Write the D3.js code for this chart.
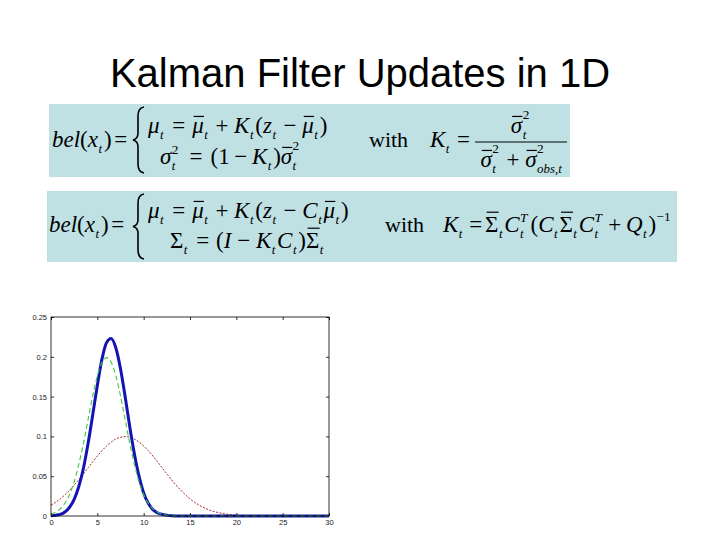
<!DOCTYPE html>
<html><head><meta charset="utf-8">
<script src="https://cdn.jsdelivr.net/npm/d3@7/dist/d3.min.js"></script>
<style>html,body{margin:0;padding:0;background:#fff;}svg{display:block;}</style>
</head><body>
<svg id="c" width="720" height="540"></svg>
<script>
// ---- data ----
const titleText = "Kalman Filter Updates in 1D";
const xGrid = [0,0.5,1,1.5,2,2.5,3,3.5,4,4.5,5,5.5,6,6.5,7,7.5,8,8.5,9,9.5,10,10.5,11,11.5,12,12.5,13,13.5,14,15,16,17,18,19,20,21,22,23,24,25,26,27,28,29,30];
const redValues = [0.0135,0.0172,0.0216,0.0266,0.0324,0.0388,0.0457,0.0530,0.0605,0.0680,0.0753,0.0820,0.0880,0.0929,0.0967,0.0989,0.0997,0.0989,0.0967,0.0929,0.0880,0.0820,0.0753,0.0680,0.0605,0.0530,0.0457,0.0388,0.0324,0.0216,0.0135,0.0079,0.0044,0.0023,0.0011,0.0005,0.0002,0.0001,0,0,0,0,0,0,0];
const greenValues = [0.002,0.005,0.009,0.016,0.027,0.043,0.065,0.091,0.121,0.151,0.176,0.193,0.199,0.193,0.176,0.151,0.121,0.091,0.065,0.043,0.027,0.016,0.009,0.005,0.002,0.001,0.0005,0,0,0,0,0,0,0,0,0,0,0,0,0,0,0,0,0,0];
const blueValues = [0.0004,0.001,0.002,0.005,0.011,0.021,0.037,0.060,0.091,0.127,0.164,0.197,0.218,0.223,0.211,0.185,0.150,0.112,0.078,0.050,0.029,0.016,0.008,0.004,0.002,0.001,0.0002,0,0,0,0,0,0,0,0,0,0,0,0,0,0,0,0,0,0];
const xTicks = [0,5,10,15,20,25,30];
const xTickLabels = ["0","5","10","15","20","25","30"];
const yTicks = [0,0.05,0.1,0.15,0.2,0.25];
const yTickLabels = ["0","0.05","0.1","0.15","0.2","0.25"];

const svg = d3.select("#c");

// ---- title ----
svg.append("text").attr("x",360).attr("y",87).attr("text-anchor","middle")
  .attr("font-family","'Liberation Sans', Arial, sans-serif").attr("font-size",40)
  .attr("fill","#000").text(titleText);

// ---- formula boxes ----
const boxFill = "#bfe1e4";
svg.append("rect").attr("x",49).attr("y",104).attr("width",521).attr("height",73).attr("fill",boxFill);
svg.append("rect").attr("x",47).attr("y",191).attr("width",630).attr("height",71).attr("fill",boxFill);

const FS = 23;
const I = (t,o={}) => Object.assign({t, i:true}, o);
const R = (t,o={}) => Object.assign({t, i:false}, o);
const S = (sub, sup, o={}) => Object.assign({sub, sup}, o);
const SP = w => ({sp:w});

function row(g, x0, y, toks, size) {
  let cx = x0;
  for (const tk of toks) {
    if (tk.sp !== undefined) { cx += tk.sp*size; continue; }
    if (tk.sub !== undefined || tk.sup !== undefined) {
      let w = 0;
      const sx = cx + size*0.02;
      if (tk.sub) {
        const t = g.append("text").attr("x",sx).attr("y",y+size*0.28).attr("font-size",size*0.56)
          .attr("font-style","italic").text(tk.sub);
        w = Math.max(w, t.node().getComputedTextLength());
      }
      if (tk.sup) {
        const dx = (tk.supdx||0)*size;
        const t = g.append("text").attr("x",sx+dx).attr("y",y-size*(tk.supy||0.45)).attr("font-size",size*0.58)
          .attr("font-style",tk.supi?"italic":"normal").text(tk.sup);
        w = Math.max(w, t.node().getComputedTextLength()+dx);
      }
      cx = sx + w + size*0.08;
      continue;
    }
    const t = g.append("text").attr("x",cx).attr("y",y).attr("font-size",size)
      .attr("font-style",tk.i?"italic":"normal").text(tk.t);
    const w = t.node().getComputedTextLength();
    if (tk.bar) {
      const by = y - size*tk.bar;
      g.append("line").attr("x1",cx+w*0.12).attr("x2",cx+w*1.02).attr("y1",by).attr("y2",by)
        .attr("stroke","#000").attr("stroke-width",1.2);
    }
    cx += w;
  }
  return cx - x0;
}
function brace(g, x, top, bot) {
  const mid = (top+bot)/2, p = d3.path();
  p.moveTo(x+11, top);
  p.quadraticCurveTo(x+5, top+1, x+5, top+9);
  p.lineTo(x+5, mid-7);
  p.quadraticCurveTo(x+5, mid-1, x, mid);
  p.quadraticCurveTo(x+5, mid+1, x+5, mid+7);
  p.lineTo(x+5, bot-9);
  p.quadraticCurveTo(x+5, bot-1, x+11, bot);
  g.append("path").attr("d",p.toString()).attr("fill","none").attr("stroke","#000").attr("stroke-width",1.6);
}

const fg = svg.append("g").attr("font-family","'Liberation Serif','Times New Roman',serif").attr("fill","#000");

// formula 1
row(fg, 52, 147, [I("bel"),R("("),I("x"),S("t"),R(")"),SP(0.12),R("=")], FS);
brace(fg, 133, 107, 173);
row(fg, 148, 133, [I("μ"),S("t"),SP(0.3),R("="),SP(0.3),I("μ",{bar:0.72}),S("t"),SP(0.25),R("+"),SP(0.25),I("K"),S("t"),R("("),I("z"),S("t"),SP(0.25),R("−"),SP(0.25),I("μ",{bar:0.72}),S("t"),R(")")], FS);
row(fg, 160, 164, [I("σ"),S("t","2"),SP(0.4),R("="),SP(0.35),R("(1"),SP(0.2),R("−"),SP(0.2),I("K"),S("t"),R(")"),I("σ",{bar:0.72}),S("t","2",{supy:0.62})], FS);
row(fg, 369, 147, [R("with")], 22);
row(fg, 430, 147, [I("K"),S("t"),SP(0.25),R("=")], FS);
{
  const ng = fg.append("g");
  const w = row(ng, 0, 133, [I("σ",{bar:0.72}),S("t","2",{supy:0.62})], FS);
  ng.attr("transform",`translate(${521-w/2},0)`);
  fg.append("line").attr("x1",475).attr("x2",567).attr("y1",142).attr("y2",142).attr("stroke","#000").attr("stroke-width",1);
  const dg = fg.append("g");
  const w2 = row(dg, 0, 167, [I("σ",{bar:0.72}),S("t","2",{supy:0.62}),SP(0.25),R("+"),SP(0.25),I("σ",{bar:0.72}),S("obs,t","2",{supy:0.62})], FS);
  dg.attr("transform",`translate(${522-w2/2},0)`);
}

// formula 2
row(fg, 49, 232, [I("bel"),R("("),I("x"),S("t"),R(")"),SP(0.12),R("=")], FS);
brace(fg, 133, 194, 259);
row(fg, 148, 218, [I("μ"),S("t"),SP(0.3),R("="),SP(0.3),I("μ",{bar:0.72}),S("t"),SP(0.25),R("+"),SP(0.25),I("K"),S("t"),R("("),I("z"),S("t"),SP(0.25),R("−"),SP(0.25),I("C"),S("t"),I("μ",{bar:0.72}),S("t"),R(")")], FS);
row(fg, 170, 248, [R("Σ"),S("t"),SP(0.3),R("="),SP(0.3),R("("),I("I"),SP(0.25),R("−"),SP(0.25),I("K"),S("t"),I("C"),S("t"),R(")"),R("Σ",{bar:0.86}),S("t")], FS);
row(fg, 385, 232, [R("with")], 22);
row(fg, 443, 232, [I("K"),S("t"),SP(0.22),R("="),SP(0.12),R("Σ",{bar:0.86}),S("t"),I("C"),S("t","T",{supi:true}),SP(0.05),R("("),I("C"),S("t"),R("Σ",{bar:0.86}),S("t"),I("C"),S("t","T",{supi:true}),SP(0.2),R("+"),SP(0.2),I("Q"),S("t"),R(")"),S(null,"−1",{supy:0.5})], FS);

// ---- plot ----
const x = d3.scaleLinear().domain([0,30]).range([51,329]);
const y = d3.scaleLinear().domain([0,0.25]).range([516,317]);
const pg = svg.append("g");
pg.append("rect").attr("x",51).attr("y",317).attr("width",278).attr("height",199).attr("fill","#fff");

function styleAxis(g, showLabels) {
  g.select(".domain").remove();
  g.selectAll(".tick line").attr("stroke","#000").attr("stroke-width",0.8);
  g.selectAll(".tick text").attr("font-family","'Liberation Sans', Arial, sans-serif").attr("font-size",7.5).attr("fill","#222");
  if (!showLabels) g.selectAll(".tick text").remove();
}
const bx = pg.append("g").attr("transform","translate(0,516)")
  .call(d3.axisBottom(x).tickValues(xTicks).tickSize(-3).tickSizeOuter(0).tickPadding(4).tickFormat((d,i)=>xTickLabels[i]));
styleAxis(bx,true);
const tx = pg.append("g").attr("transform","translate(0,317)")
  .call(d3.axisTop(x).tickValues(xTicks).tickSize(-3).tickSizeOuter(0));
styleAxis(tx,false);
const ly = pg.append("g").attr("transform","translate(51,0)")
  .call(d3.axisLeft(y).tickValues(yTicks).tickSize(-3).tickSizeOuter(0).tickPadding(4).tickFormat((d,i)=>yTickLabels[i]));
styleAxis(ly,true);
const ry = pg.append("g").attr("transform","translate(329,0)")
  .call(d3.axisRight(y).tickValues(yTicks).tickSize(-3).tickSizeOuter(0));
styleAxis(ry,false);

const line = vals => d3.line().x((d,i)=>x(xGrid[i])).y(d=>y(d)).curve(d3.curveMonotoneX)(vals);
pg.append("path").attr("d",line(redValues)).attr("fill","none").attr("stroke","#a8282c").attr("stroke-width",1).attr("stroke-dasharray","2,1.5");
pg.append("path").attr("d",line(blueValues)).attr("fill","none").attr("stroke","#1414b4").attr("stroke-width",3).attr("stroke-linejoin","round");
pg.append("path").attr("d",line(greenValues)).attr("fill","none").attr("stroke","#3cc83c").attr("stroke-width",1.1).attr("stroke-dasharray","5,3");
pg.append("rect").attr("x",51).attr("y",317).attr("width",278).attr("height",199).attr("fill","none").attr("stroke","#000").attr("stroke-width",0.8);
</script>
</body></html>
